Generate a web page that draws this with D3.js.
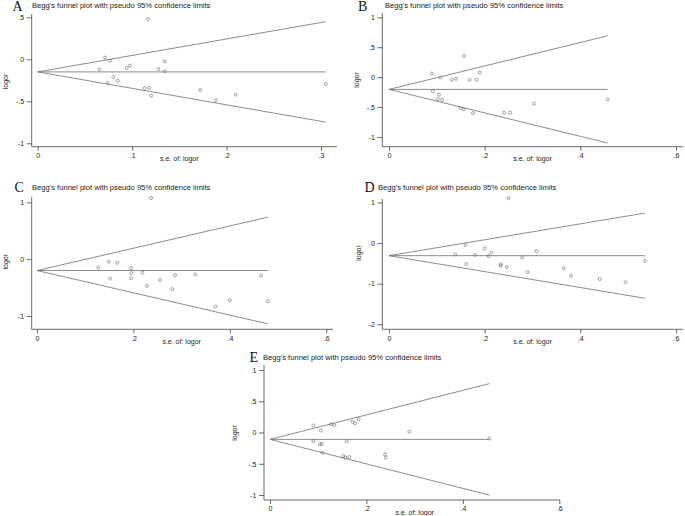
<!DOCTYPE html>
<html>
<head>
<meta charset="utf-8">
<script src="https://cdn.jsdelivr.net/npm/d3@7"></script>
<style>
  html, body { margin: 0; padding: 0; background: #fff; }
  svg { display: block; }
</style>
</head>
<body>
<svg id="chart" width="685" height="516"></svg>
<script>
// ---- data ----
var titleText = "Begg's funnel plot with pseudo 95% confidence limits";
var xLabel = "s.e. of: logor";
var yLabel = "logor";
var panelNames = ["A", "B", "C", "D", "E"];

var seA = [0.1165, 0.0713, 0.0766, 0.0653, 0.0978, 0.0943, 0.0801, 0.0847, 0.0741, 0.1345,
  0.1278, 0.1345, 0.1133, 0.118, 0.12, 0.172, 0.1885, 0.2097, 0.305];
var logorA = [0.48, 0.02, -0.017, -0.12, -0.076, -0.103, -0.21, -0.255, -0.28, -0.024,
  -0.115, -0.143, -0.345, -0.34, -0.433, -0.365, -0.488, -0.42, -0.294];
var pooledA = -0.15;

var seB = [0.157, 0.0896, 0.19, 0.1077, 0.1315, 0.14, 0.1686, 0.1833, 0.0917, 0.1042,
  0.1021, 0.1112, 0.1497, 0.1567, 0.1756, 0.2407, 0.2533, 0.3029, 0.457];
var logorB = [0.355, 0.061, 0.078, -0.006, -0.044, -0.028, -0.044, -0.044, -0.233, -0.294,
  -0.367, -0.378, -0.522, -0.539, -0.6, -0.594, -0.594, -0.444, -0.372];
var pooledB = -0.205;

var seC = [0.2365, 0.127, 0.1487, 0.1666, 0.195, 0.1957, 0.2185, 0.1515, 0.195, 0.228,
  0.2552, 0.2863, 0.2807, 0.3284, 0.37, 0.3998, 0.4647, 0.4786];
var logorC = [1.074, -0.147, -0.047, -0.065, -0.159, -0.246, -0.235, -0.341, -0.335, -0.47,
  -0.364, -0.282, -0.528, -0.27, -0.834, -0.722, -0.288, -0.74];
var pooledC = -0.2;

var seD = [0.2497, 0.1601, 0.2, 0.2141, 0.1385, 0.1798, 0.2084, 0.2784, 0.3085, 0.1616,
  0.2336, 0.2336, 0.2462, 0.2896, 0.3652, 0.3805, 0.4407, 0.4946, 0.5352];
var logorD = [1.106, -0.049, -0.131, -0.229, -0.278, -0.287, -0.319, -0.352, -0.197, -0.516,
  -0.524, -0.557, -0.59, -0.713, -0.622, -0.803, -0.885, -0.966, -0.434];
var pooledD = -0.31;

var seE = [0.0899, 0.1058, 0.1266, 0.1335, 0.1708, 0.1763, 0.184, 0.289, 0.455, 0.0899,
  0.1037, 0.1072, 0.159, 0.1086, 0.152, 0.1563, 0.1645, 0.2386, 0.24];
var logorE = [0.112, 0.032, 0.134, 0.118, 0.171, 0.15, 0.214, 0.011, -0.096, -0.138,
  -0.192, -0.181, -0.138, -0.325, -0.378, -0.4, -0.394, -0.352, -0.4];
var pooledE = -0.11;

var xTicksA = [0, 0.1, 0.2, 0.3];
var xTicksWide = [0, 0.2, 0.4, 0.6];
var yTicksA = [-1, -0.5, 0, 0.5];
var yTicksB = [-1, -0.5, 0, 0.5, 1];
var yTicksC = [-1, 0, 1];
var yTicksD = [-2, -1, 0, 1];
var yTicksE = [-1, -0.5, 0, 0.5, 1];

// ---- layout: axis frame and pixel span of the first/last tick ----
var layout = {
  A: { se: seA, lo: logorA, pooled: pooledA, xt: xTicksA, yt: yTicksA,
       left: 31.7, top: 14, right: 337, bottom: 146.7, xr: [37.7, 321], yr: [143.3, 17.3],
       letterX: 12.5, letterY: 10.5, titleX: 32, titleY: 8, ylabX: 5.5, ylabY: 81.5 },
  B: { se: seB, lo: logorB, pooled: pooledB, xt: xTicksWide, yt: yTicksB,
       left: 382.3, top: 13, right: 683, bottom: 146.7, xr: [389, 676], yr: [137, 17.3],
       letterX: 358, letterY: 10.5, titleX: 385, titleY: 8, ylabX: 357, ylabY: 80 },
  C: { se: seC, lo: logorC, pooled: pooledC, xt: xTicksWide, yt: yTicksC,
       left: 31.7, top: 197, right: 333, bottom: 329.3, xr: [37, 326.3], yr: [316, 202.3],
       letterX: 14.5, letterY: 192, titleX: 32, titleY: 189.5, ylabX: 5.5, ylabY: 261.7 },
  D: { se: seD, lo: logorD, pooled: pooledD, xt: xTicksWide, yt: yTicksD,
       left: 382.3, top: 199, right: 683, bottom: 329.3, xr: [389, 676], yr: [324.3, 202.5],
       letterX: 364.5, letterY: 192, titleX: 378, titleY: 189.5, ylabX: 358.5, ylabY: 253 },
  E: { se: seE, lo: logorE, pooled: pooledE, xt: xTicksWide, yt: yTicksE,
       left: 264, top: 365, right: 560, bottom: 500, xr: [270, 559.3], yr: [495, 370],
       letterX: 249.5, letterY: 362, titleX: 263, titleY: 360, ylabX: 235, ylabY: 433 }
};

var svg = d3.select('#chart');
var sans = '"Liberation Sans", Arial, sans-serif';
var serif = '"Liberation Serif", "Times New Roman", serif';
var lineColor = '#6f6f6f';

function stataNum(d) {
  return String(+d.toFixed(2)).replace(/^(-?)0\./, '$1.');
}

panelNames.forEach(function (name) {
  var p = layout[name];
  var g = svg.append('g');

  var x = d3.scaleLinear()
    .domain([p.xt[0], p.xt[p.xt.length - 1]])
    .range(p.xr);
  var y = d3.scaleLinear()
    .domain([p.yt[0], p.yt[p.yt.length - 1]])
    .range(p.yr);

  // axes (d3 axis generators, then trim the domain path to the frame)
  var xAxis = g.append('g')
    .attr('transform', 'translate(0,' + p.bottom + ')')
    .call(d3.axisBottom(x).tickValues(p.xt).tickFormat(stataNum).tickSize(4).tickSizeOuter(0));
  xAxis.select('.domain').remove();
  xAxis.append('line').attr('x1', p.left).attr('x2', p.right).attr('y1', 0).attr('y2', 0);

  var yAxis = g.append('g')
    .attr('transform', 'translate(' + p.left + ',0)')
    .call(d3.axisLeft(y).tickValues(p.yt).tickFormat(stataNum).tickSize(5).tickSizeOuter(0));
  yAxis.select('.domain').remove();
  yAxis.append('line').attr('x1', 0).attr('x2', 0).attr('y1', p.top).attr('y2', p.bottom);

  g.selectAll('.tick line, g > line').attr('stroke', '#444').attr('stroke-width', 0.8);
  g.selectAll('.tick text')
    .attr('font-size', 7).attr('fill', '#222')
    .attr('font-family', sans);
  xAxis.selectAll('.tick text').attr('y', 6.5);
  yAxis.selectAll('.tick text').attr('x', -7.5);

  // funnel: pooled estimate and pseudo 95% limits out to the largest s.e.
  var seMax = d3.max(p.se);
  var funnel = [
    [[0, p.pooled], [seMax, p.pooled]],
    [[0, p.pooled], [seMax, p.pooled + 1.96 * seMax]],
    [[0, p.pooled], [seMax, p.pooled - 1.96 * seMax]]
  ];
  var line = d3.line().x(function (d) { return x(d[0]); }).y(function (d) { return y(d[1]); });
  g.selectAll('path.funnel').data(funnel).enter().append('path')
    .attr('class', 'funnel')
    .attr('d', line)
    .attr('fill', 'none')
    .attr('stroke', lineColor)
    .attr('stroke-width', 0.8);

  // studies
  g.selectAll('circle.study').data(d3.range(p.se.length)).enter().append('circle')
    .attr('class', 'study')
    .attr('cx', function (i) { return x(p.se[i]); })
    .attr('cy', function (i) { return y(p.lo[i]); })
    .attr('r', 1.5)
    .attr('fill', 'none')
    .attr('stroke', '#666')
    .attr('stroke-width', 0.6);

  // titles and labels
  g.append('text')
    .attr('x', p.letterX).attr('y', p.letterY)
    .attr('font-family', serif)
    .attr('font-size', 14)
    .attr('fill', '#111')
    .text(name);
  g.append('text')
    .attr('x', p.titleX).attr('y', p.titleY)
    .attr('font-family', sans)
    .attr('font-size', 7.6)
    .attr('fill', '#222')
    .text(titleText);
  g.append('text')
    .attr('x', (p.xr[0] + p.xr[1]) / 2).attr('y', p.bottom + 14.5)
    .attr('text-anchor', 'middle')
    .attr('font-family', sans)
    .attr('font-size', 7)
    .attr('fill', '#222')
    .text(xLabel);
  g.append('text')
    .attr('transform', 'translate(' + p.ylabX + ',' + p.ylabY + ') rotate(-90)')
    .attr('text-anchor', 'middle')
    .attr('dy', '0.35em')
    .attr('font-family', sans)
    .attr('font-size', 7)
    .attr('fill', '#222')
    .text(yLabel);
});
</script>
</body>
</html>
